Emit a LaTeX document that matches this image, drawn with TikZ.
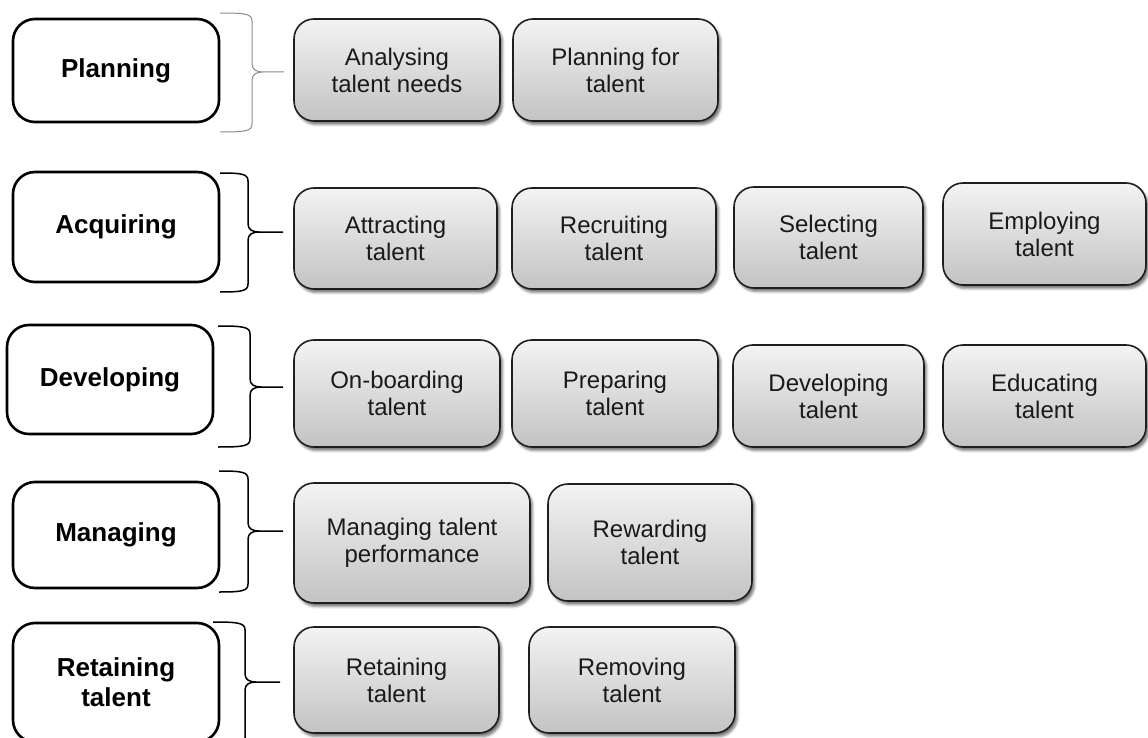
\documentclass[tikz,border=0pt]{standalone}
\usepackage{fontspec}
\setmainfont{Liberation Sans}
\usetikzlibrary{shadows.blur}

\definecolor{boxtop}{HTML}{F3F3F3}
\definecolor{boxbot}{HTML}{C3C3C3}
\definecolor{boxline}{HTML}{1E1E1E}
\definecolor{textdark}{HTML}{1A1A1A}
\definecolor{bracegrey}{HTML}{8A8A8A}

\tikzset{
  stage/.style={draw=black, line width=2.6pt, rounded corners=22pt, fill=white,
    inner sep=0pt, align=center, font=\fontsize{26}{30}\selectfont\bfseries},
  task/.style={draw=boxline, line width=1.6pt, rounded corners=20pt,
    top color=boxtop, bottom color=boxbot, inner sep=0pt, align=center,
    font=\fontsize{24}{27}\selectfont, text=textdark,
    blur shadow={shadow xshift=2.5pt, shadow yshift=-3.5pt,
      shadow blur radius=2.5pt, shadow opacity=55}},
  bracepath/.style={line width=1.5pt, draw=black},
}

% box given by its corners: style, name, x1, y1, x2, y2, text
\newcommand\placebox[7]{%
  \node[#1, minimum width={#5-#3}, minimum height={#6-#4}] (#2)
    at ({(#3+#5)/2},{(#4+#6)/2}) {#7};}

% curly bracket: [opts], x of ends, x of spine, x of tip, y top, y tip, y bottom
\newcommand\grpbrace[7][]{%
  \draw[bracepath,#1]
    (#2,#5) .. controls (#3-6,#5) and (#3,#5+1) .. (#3,#5+8)
    -- (#3,#6-8) .. controls (#3,#6-2) and (#3+5,#6) .. (#3+11,#6) -- (#4,#6)
    (#2,#7) .. controls (#3-6,#7) and (#3,#7-1) .. (#3,#7-8)
    -- (#3,#6+8) .. controls (#3,#6+2) and (#3+5,#6) .. (#3+11,#6);}

\begin{document}
\begin{tikzpicture}[x=1pt, y=-1pt]
  \useasboundingbox (0,0) rectangle (1148,738);
  \clip (0,0) rectangle (1148,738);

  % stages
  \placebox{stage}{plan}{13}{19}{219}{122}{Planning}
  \placebox{stage}{acq}{13}{172}{219}{282}{Acquiring}
  \placebox{stage}{devs}{7}{325}{213}{434}{Developing}
  \placebox{stage}{man}{13}{482}{219}{588}{Managing}
  \placebox{stage}{rts}{13}{623}{219}{742}{Retaining\\talent}

  % brackets
  \grpbrace[draw=bracegrey, line width=1pt]{220}{252}{284}{13}{72}{132}
  \grpbrace{220}{248}{283}{173}{232}{292}
  \grpbrace{218}{250}{283}{326}{387}{447}
  \grpbrace{219}{248}{283}{471}{531}{592}
  \grpbrace{213}{245}{280}{622}{682}{746}

  % tasks
  \placebox{task}{ana}{294}{19}{500}{121}{Analysing\\talent needs}
  \placebox{task}{plf}{513}{19}{718}{121}{Planning for\\talent}

  \placebox{task}{att}{294}{188}{497}{289}{Attracting\\talent}
  \placebox{task}{rec}{512}{188}{716}{289}{Recruiting\\talent}
  \placebox{task}{sel}{734}{187}{923}{288}{Selecting\\talent}
  \placebox{task}{emp}{943}{183}{1146}{285}{Employing\\talent}

  \placebox{task}{onb}{294}{340}{500}{447}{On-boarding\\talent}
  \placebox{task}{pre}{512}{340}{718}{447}{Preparing\\talent}
  \placebox{task}{dev}{733}{345}{924}{447}{Developing\\talent}
  \placebox{task}{edu}{943}{345}{1146}{447}{Educating\\talent}

  \placebox{task}{mtp}{294}{483}{530}{603}{Managing talent\\performance}
  \placebox{task}{rew}{548}{484}{752}{601}{Rewarding\\talent}

  \placebox{task}{ret}{294}{627}{499}{733}{Retaining\\talent}
  \placebox{task}{rem}{529}{627}{735}{733}{Removing\\talent}
\end{tikzpicture}
\end{document}
